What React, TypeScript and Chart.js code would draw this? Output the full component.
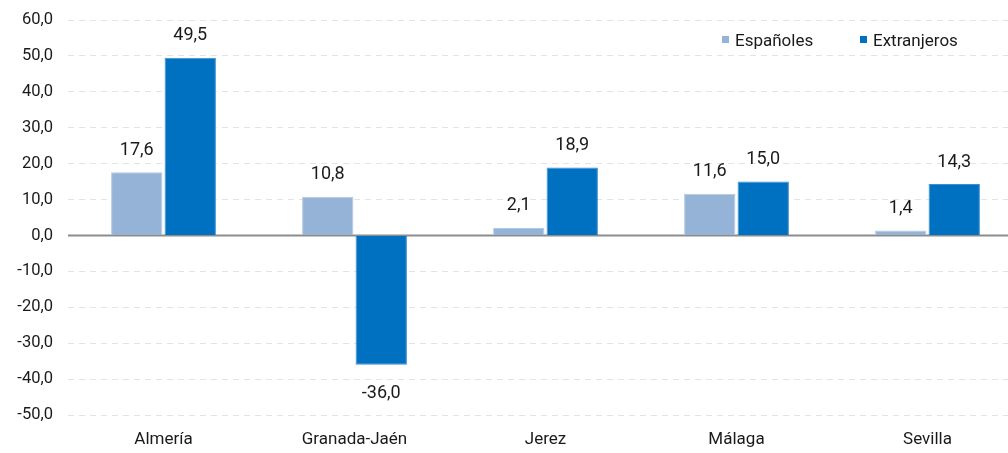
import React, { useEffect, useRef } from "react";
import { Chart, registerables } from "chart.js";

Chart.register(...registerables);

const categories = ["Almería", "Granada-Jaén", "Jerez", "Málaga", "Sevilla"];
const espanoles = [17.6, 10.8, 2.1, 11.6, 1.4];
const extranjeros = [49.5, -36.0, 18.9, 15.0, 14.3];
const seriesNames = ["Españoles", "Extranjeros"];
const yMin = -50;
const yMax = 60;

const FONT = "Roboto, 'Liberation Sans', sans-serif";
const LIGHT = "#95B3D7";
const DARK = "#0070C0";

const fmt = (v: number) => v.toFixed(1).replace(".", ",");

const labelPlugin = {
  id: "valueLabels",
  afterDatasetsDraw(chart: any) {
    const ctx = chart.ctx;
    ctx.save();
    ctx.font = `18px ${FONT}`;
    ctx.fillStyle = "#1a1a1a";
    ctx.textAlign = "center";
    ctx.textBaseline = "middle";
    chart.data.datasets.forEach((ds: any, i: number) => {
      const meta = chart.getDatasetMeta(i);
      meta.data.forEach((bar: any, j: number) => {
        const v = ds.data[j];
        const y = v >= 0 ? bar.y - 22 : bar.y + 29;
        ctx.fillText(fmt(v), bar.x, y);
      });
    });
    ctx.restore();
  },
};

const zeroLinePlugin = {
  id: "zeroLine",
  beforeDatasetsDraw(chart: any) {
    const ctx = chart.ctx;
    const y = chart.scales.y.getPixelForValue(0);
    const { left, right } = chart.chartArea;
    ctx.save();
    ctx.strokeStyle = "#8c8c8c";
    ctx.lineWidth = 2;
    ctx.beginPath();
    ctx.moveTo(left, y);
    ctx.lineTo(right, y);
    ctx.stroke();
    ctx.restore();
  },
};

const legendPlugin = {
  id: "customLegend",
  afterDraw(chart: any) {
    const ctx = chart.ctx;
    ctx.save();
    ctx.font = `17px ${FONT}`;
    ctx.textBaseline = "middle";
    ctx.textAlign = "left";
    const items = [
      { x: 722, color: LIGHT, text: seriesNames[0] },
      { x: 860, color: DARK, text: seriesNames[1] },
    ];
    items.forEach((it) => {
      ctx.fillStyle = it.color;
      ctx.fillRect(it.x, 36, 7, 7);
      ctx.fillStyle = "#1a1a1a";
      ctx.fillText(it.text, it.x + 13, 42);
    });
    ctx.restore();
  },
};

export default function App() {
  const ref = useRef<HTMLCanvasElement | null>(null);

  useEffect(() => {
    if (!ref.current) return;
    const chart = new Chart(ref.current, {
      type: "bar",
      data: {
        labels: categories,
        datasets: [
          {
            label: seriesNames[0],
            data: espanoles,
            backgroundColor: LIGHT,
            borderColor: "#b4c9e4",
            borderWidth: 1,
            barPercentage: 0.96,
            categoryPercentage: 0.56,
          },
          {
            label: seriesNames[1],
            data: extranjeros,
            backgroundColor: DARK,
            borderColor: "#3a8fd0",
            borderWidth: 1,
            barPercentage: 0.96,
            categoryPercentage: 0.56,
          },
        ],
      },
      options: {
        animation: false,
        responsive: false,
        maintainAspectRatio: false,
        layout: { padding: { top: 20, right: 1, left: 0, bottom: 0 } },
        plugins: {
          legend: { display: false },
          tooltip: { enabled: false },
        },
        scales: {
          x: {
            grid: { display: false, drawTicks: false },
            border: { display: false },
            ticks: {
              font: { family: FONT, size: 17 },
              color: "#1a1a1a",
              padding: 15,
            },
            afterFit(scale: any) {
              scale.height = 38;
            },
          },
          y: {
            min: yMin,
            max: yMax,
            grid: {
              color: (c: any) => (c.tick && c.tick.value === 0 ? "rgba(0,0,0,0)" : "#e3e3e3"),
              lineWidth: 1,
              drawTicks: false,
            },
            border: { display: false, dash: [6, 5] },
            ticks: {
              stepSize: 10,
              font: { family: FONT, size: 16.5 },
              color: "#1a1a1a",
              padding: 15,
              callback: (v: any) => fmt(Number(v)),
            },
            afterFit(scale: any) {
              scale.width = 68;
              scale.paddingTop = 0;
              scale.paddingBottom = 0;
            },
          },
        },
      },
      plugins: [zeroLinePlugin, labelPlugin, legendPlugin],
    });
    return () => chart.destroy();
  }, []);

  return (
    <div
      style={{
        position: "fixed",
        left: 0,
        top: 0,
        width: 1008,
        height: 453,
        overflow: "hidden",
        background: "#fff",
      }}
    >
      <canvas ref={ref} width={1024} height={453} style={{ width: 1024, height: 453, display: "block" }} />
    </div>
  );
}
